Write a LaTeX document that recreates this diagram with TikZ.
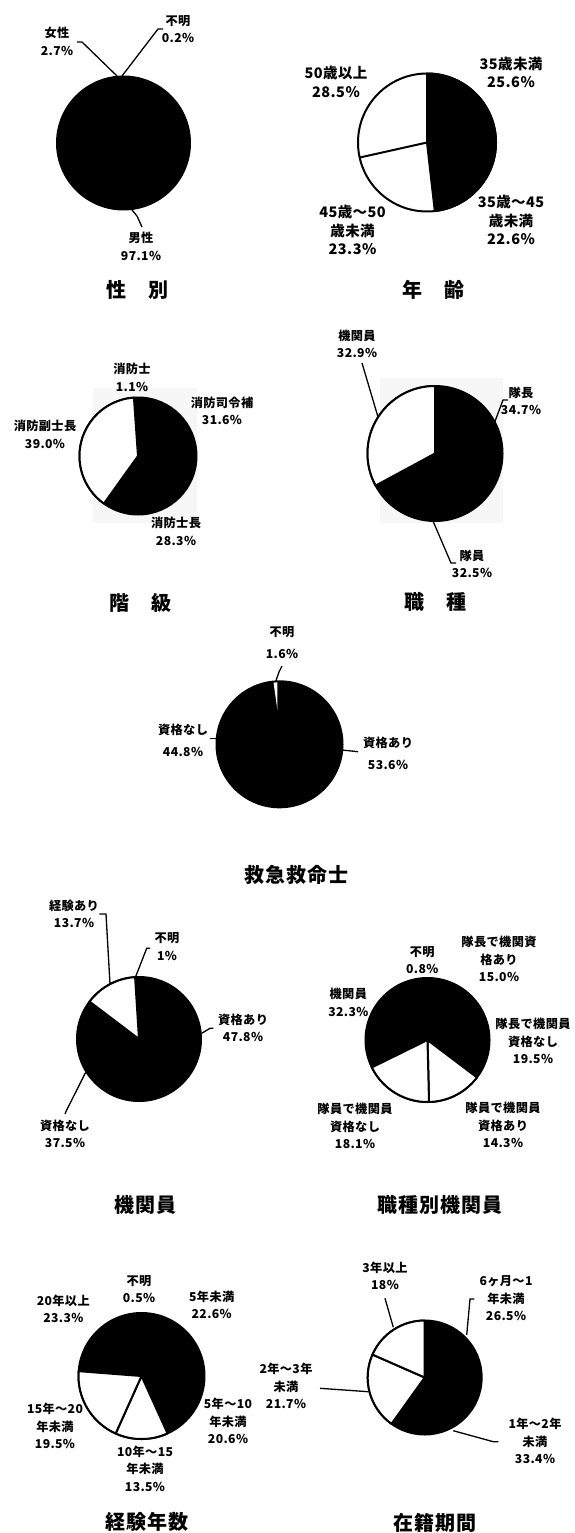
\documentclass[tikz,border=0pt]{standalone}
\usepackage{fontspec}
\setmainfont{Noto Sans CJK JP}
\newfontfamily\jp{Noto Sans CJK JP}[LetterSpace=3]
\newfontfamily\jpt{Noto Sans CJK JP}[LetterSpace=5]
\usetikzlibrary{positioning}

\begin{document}
\begin{tikzpicture}[
    x=1pt, y=1pt,
    lbl/.style={font=\jp\bfseries\fontsize{12.2}{17.5}\selectfont, align=center, inner sep=0pt},
    lblbig/.style={lbl, font=\jp\bfseries\fontsize{14.5}{18.5}\selectfont},
    lblwide/.style={lbl, font=\jp\bfseries\fontsize{12.2}{22.5}\selectfont},
    ttl/.style={font=\jpt\bfseries\fontsize{20}{24}\selectfont, inner sep=0pt},
    pie/.style={draw=black, line width=2pt, line join=round},
    leader/.style={draw=black, line width=1.3pt},
    backdrop/.style={fill=black!3}
]
    \fill[white] (0,0) rectangle (574,-1533);
    \useasboundingbox (0,0) rectangle (574,-1533);

    % Pies
    \coordinate (seibetsu) at (123.5,-143);
    \coordinate (nenrei) at (427,-142.5);
    \coordinate (kaikyu) at (138,-456);
    \coordinate (shokushu) at (435,-453.5);
    \coordinate (kyukyu) at (279.5,-744.3);
    \coordinate (kikanin) at (139,-1039);
    \coordinate (betsu) at (427.5,-1040);
    \coordinate (keiken) at (141.5,-1376);
    \coordinate (zaiseki) at (424.7,-1377.5);

    \filldraw[pie, fill=black] (seibetsu) circle[radius=66.5];

    \filldraw[pie, fill=white] (nenrei) circle[radius=69];
    \filldraw[pie, fill=black] (nenrei) -- ++(90:69) arc[start angle=90, end angle=-83.5, radius=69] -- cycle;
    \draw[pie] (nenrei) -- ++(-167.4:69);

    \fill[backdrop] (93,-388) rectangle (197,-523);
    \filldraw[pie, fill=black] (kaikyu) circle[radius=58.5];
    \filldraw[pie, fill=white] (kaikyu) -- ++(94:58.5) arc[start angle=94, end angle=234.4, radius=58.5] -- cycle;

    \fill[backdrop] (380,-378) rectangle (503,-523);
    \filldraw[pie, fill=black] (shokushu) circle[radius=67.5];
    \filldraw[pie, fill=white] (shokushu) -- ++(90:67.5) arc[start angle=90, end angle=208.4, radius=67.5] -- cycle;

    \filldraw[pie, fill=black] (kyukyu) circle[radius=63];
    \fill[white] ([shift={(93.5:34)}]kyukyu) -- ([shift={(92:62)}]kyukyu) arc[start angle=92, end angle=95.5, radius=62] -- cycle;

    \filldraw[pie, fill=black] (kikanin) circle[radius=62];
    \filldraw[pie, fill=white] (kikanin) -- ++(93.6:62) arc[start angle=93.6, end angle=142.9, radius=62] -- cycle;

    \filldraw[pie, fill=black] (betsu) circle[radius=62];
    \filldraw[pie, fill=white] (betsu) -- ++(-37.1:62) arc[start angle=-37.1, end angle=-88.6, radius=62] -- cycle;
    \filldraw[pie, fill=white] (betsu) -- ++(-88.6:62) arc[start angle=-88.6, end angle=-153.8, radius=62] -- cycle;

    \filldraw[pie, fill=black] (keiken) circle[radius=63];
    \filldraw[pie, fill=white] (keiken) -- ++(-65.6:63) arc[start angle=-65.6, end angle=-114.2, radius=63] -- cycle;
    \filldraw[pie, fill=white] (keiken) -- ++(-114.2:63) arc[start angle=-114.2, end angle=-184.4, radius=63] -- cycle;

    \filldraw[pie, fill=black] (zaiseki) circle[radius=57];
    \filldraw[pie, fill=white] (zaiseki) -- ++(-125.6:57) arc[start angle=-125.6, end angle=-203.7, radius=57] -- cycle;
    \filldraw[pie, fill=white] (zaiseki) -- ++(-203.7:57) arc[start angle=-203.7, end angle=-270, radius=57] -- cycle;

    % Labels
    \node[lbl] (josei) at (57,-41.5) {女性\\2.7\%};
    \node[lbl] (fumei1) at (178,-29) {不明\\0.2\%};
    \node[lbl] (dansei) at (141,-246.5) {男性\\97.1\%};

    \node[lblbig] (over50) at (336,-82) {50歳以上\\28.5\%};
    \node[lblbig] (under35) at (511,-72.5) {35歳未満\\25.6\%};
    \node[lblbig] (age3545) at (511,-220) {35歳～45\\歳未満\\22.6\%};
    \node[lblbig] (age4550) at (352.5,-230) {45歳～50\\歳未満\\23.3\%};

    \node[lbl] (shobo) at (132,-377.5) {消防士\\1.1\%};
    \node[lbl] (shirei) at (222,-411) {消防司令補\\31.6\%};
    \node[lbl] (fukushi) at (45,-434.5) {消防副士長\\39.0\%};
    \node[lbl] (shicho) at (176,-531.5) {消防士長\\28.3\%};

    \node[lbl] (kikan4) at (357,-344) {機関員\\32.9\%};
    \node[lbl] (taicho) at (521,-401) {隊長\\34.7\%};
    \node[lbl] (taiin) at (472,-564) {隊員\\32.5\%};

    \node[lblwide] (fumei5) at (282,-642.5) {不明\\1.6\%};
    \node[lblwide] (nashi5) at (183,-740.5) {資格なし\\44.8\%};
    \node[lblwide] (ari5) at (388,-753.3) {資格あり\\53.6\%};

    \node[lbl] (keikenari) at (74,-914) {経験あり\\13.7\%};
    \node[lbl] (fumei6) at (167,-946.7) {不明\\1\%};
    \node[lbl] (ari6) at (243,-1028) {資格あり\\47.8\%};
    \node[lbl] (nashi6) at (65,-1134) {資格なし\\37.5\%};

    \node[lbl] (fumei7) at (422.3,-960.3) {不明\\0.8\%};
    \node[lbl] (taichoari) at (499,-959) {隊長で機関資\\格あり\\15.0\%};
    \node[lbl] (kikan7) at (348.3,-1002.3) {機関員\\32.3\%};
    \node[lbl] (taichonashi) at (533,-1041) {隊長で機関員\\資格なし\\19.5\%};
    \node[lbl] (taiinnashi) at (355,-1126) {隊員で機関員\\資格なし\\18.1\%};
    \node[lbl] (taiinari) at (503,-1125) {隊員で機関員\\資格あり\\14.3\%};

    \node[lbl] (fumei8) at (139,-1289) {不明\\0.5\%};
    \node[lbl] (over20) at (63.3,-1308.7) {20年以上\\23.3\%};
    \node[lbl] (under5) at (211.7,-1305) {5年未満\\22.6\%};
    \node[lbl] (yr1520) at (55,-1426) {15年～20\\年未満\\19.5\%};
    \node[lbl] (yr510) at (228,-1421) {5年～10\\年未満\\20.6\%};
    \node[lbl] (yr1015) at (145,-1468.5) {10年～15\\年未満\\13.5\%};

    \node[lbl] (over3) at (385,-1276) {3年以上\\18\%};
    \node[lbl] (mon6) at (506,-1298.5) {6ヶ月～1\\年未満\\26.5\%};
    \node[lbl] (yr23) at (286,-1386) {2年～3年\\未満\\21.7\%};
    \node[lbl] (yr12) at (535,-1441) {1年～2年\\未満\\33.4\%};

    % Titles
    \node[ttl] (t1) at (137,-290) {性　別};
    \node[ttl] (t2) at (433,-290) {年　齢};
    \node[ttl] (t3) at (140,-603) {階　級};
    \node[ttl] (t4) at (435,-602) {職　種};
    \node[ttl] (t5) at (296.7,-875) {救急救命士};
    \node[ttl] (t6) at (145,-1205) {機関員};
    \node[ttl] (t7) at (440,-1205) {職種別機関員};
    \node[ttl] (t8) at (146.7,-1521.7) {経験年数};
    \node[ttl] (t9) at (435,-1523.3) {在籍期間};

    % Leaders
    \draw[leader] (77,-42) -- (82,-42) -- (117,-76);
    \draw[leader] (122,-76) -- (158,-29) -- (163,-29);
    \draw[leader] (132,-210) -- (137,-216) -- (142,-227);

    \draw[leader] (362,-363) -- (378,-417);
    \draw[leader] (494,-424) -- (503,-400) -- (508,-400);
    \draw[leader] (433,-521) -- (451,-563) -- (456,-563);

    \draw[leader] (275.5,-682) -- (279,-672) -- (282,-666);
    \draw[leader] (210,-738.3) -- (217,-738.3);
    \draw[leader] (342,-750) -- (358,-751.7);

    \draw[leader] (99.3,-914) -- (106,-914) -- (110,-984);
    \draw[leader] (135,-978.3) -- (146.7,-948.3) -- (150,-948.3);
    \draw[leader] (201.7,-1033.3) -- (210,-1028.3) -- (213.3,-1028.3);
    \draw[leader] (86,-1071.7) -- (66.7,-1110) -- (65,-1114);

    \draw[leader] (385,-1298.3) -- (393.3,-1327.3);
    \draw[leader] (466.7,-1335) -- (470,-1299) -- (474.3,-1299);
    \draw[leader] (368.3,-1391.7) -- (320,-1388.3);
    \draw[leader] (453.3,-1430.7) -- (493.3,-1441.7) -- (498.3,-1441.7);
\end{tikzpicture}
\end{document}
